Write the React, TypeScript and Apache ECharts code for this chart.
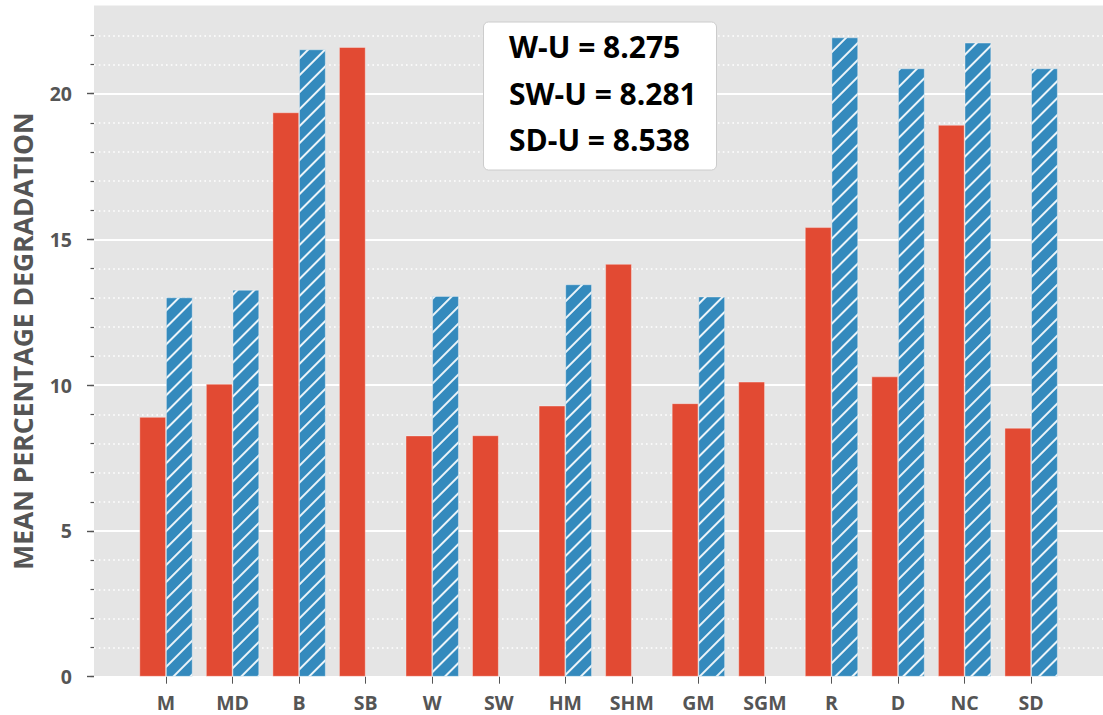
import React, { useEffect, useRef } from "react";
import * as echarts from "echarts";

// Methods on the x axis
const categories = ["M", "MD", "B", "SB", "W", "SW", "HM", "SHM", "GM", "SGM", "R", "D", "NC", "SD"];

// Mean percentage degradation, unweighted (solid) and weighted (hatched)
const unweighted = [8.91, 10.05, 19.36, 21.6, 8.275, 8.281, 9.3, 14.16, 9.38, 10.12, 15.42, 10.3, 18.93, 8.538];
const weighted = [13.01, 13.27, 21.52, null, 13.06, null, 13.46, null, 13.04, null, 21.93, 20.87, 21.75, 20.87];

// Methods whose unweighted value is quoted in the text box
const quoted = ["W", "SW", "SD"];

const majorTicks = { min: 0, max: 20, interval: 5 };
const minorTicks = { min: 0, max: 22, interval: 1 };

const W = 1103;
const H = 715;
const PLOT_LEFT = 94;
const PLOT_TOP = 5.4;
const ZERO_Y = 676.7;
const UNIT = 29.15; // px per unit of the value axis
const STEP = 66.55; // px between category centres
const FIRST_CENTER = 166;

const GREY = "#555555";
const FONT = "Open Sans";

export default function App() {
  const ref = useRef<HTMLDivElement>(null);

  useEffect(() => {
    if (!ref.current) return;
    const chart = echarts.init(ref.current, null, { renderer: "svg" });

    const boxLines = quoted.map((c) => {
      const v = unweighted[categories.indexOf(c)];
      return `${c}-U = ${v.toFixed(3)}`;
    });

    const minorTop = ZERO_Y - minorTicks.max * UNIT;
    const majorTop = ZERO_Y - majorTicks.max * UNIT;

    const option: any = {
      animation: false,
      aria: { enabled: true, decal: { show: true } },
      grid: [
        { left: PLOT_LEFT, width: W - PLOT_LEFT, top: minorTop, height: minorTicks.max * UNIT },
        { left: PLOT_LEFT, width: W - PLOT_LEFT, top: majorTop, height: majorTicks.max * UNIT },
        {
          left: FIRST_CENTER - STEP / 2,
          width: categories.length * STEP,
          top: minorTop,
          height: minorTicks.max * UNIT,
        },
      ],
      xAxis: [
        { gridIndex: 0, type: "value", min: 0, max: 1, show: false },
        { gridIndex: 1, type: "value", min: 0, max: 1, show: false },
        {
          gridIndex: 2,
          type: "category",
          data: categories,
          axisLine: { show: false },
          axisTick: { show: true, alignWithLabel: true, length: 7, lineStyle: { color: GREY, width: 1 } },
          axisLabel: {
            margin: 16,
            color: GREY,
            fontFamily: FONT,
            fontWeight: "bold",
            fontSize: 19.5,
          },
          splitLine: { show: false },
        },
      ],
      yAxis: [
        {
          gridIndex: 0,
          type: "value",
          min: minorTicks.min,
          max: minorTicks.max,
          interval: minorTicks.interval,
          offset: 3,
          axisLine: { show: false },
          axisTick: { show: true, length: 3.5, lineStyle: { color: GREY, width: 1.2 } },
          axisLabel: { show: false },
          splitLine: { show: true, lineStyle: { color: "#ffffff", width: 1.6, type: [1.6, 3.2] } },
        },
        {
          gridIndex: 1,
          type: "value",
          min: majorTicks.min,
          max: majorTicks.max,
          interval: majorTicks.interval,
          offset: 3,
          axisLine: { show: false },
          axisTick: { show: true, length: 7, lineStyle: { color: GREY, width: 1.4 } },
          axisLabel: {
            margin: 19,
            color: GREY,
            fontFamily: FONT,
            fontWeight: "bold",
            fontSize: 19.5,
          },
          splitLine: { show: true, lineStyle: { color: "#ffffff", width: 1.8 } },
        },
        { gridIndex: 2, type: "value", min: minorTicks.min, max: minorTicks.max, show: false },
      ],
      series: [
        {
          name: "Unweighted",
          type: "bar",
          xAxisIndex: 2,
          yAxisIndex: 2,
          data: unweighted,
          barWidth: STEP * 0.4,
          barGap: "0%",
          itemStyle: {
            color: "#E24A33",
            borderColor: "rgba(255,255,255,0.25)",
            borderWidth: 0.8,
            decal: { symbol: "none" },
          },
        },
        {
          name: "Weighted",
          type: "bar",
          xAxisIndex: 2,
          yAxisIndex: 2,
          data: weighted,
          barWidth: STEP * 0.4,
          barGap: "0%",
          itemStyle: {
            color: "#348ABD",
            borderColor: "rgba(255,255,255,0.25)",
            borderWidth: 0.8,
            decal: {
              symbol: "rect",
              symbolSize: 1,
              dashArrayX: [1, 0],
              dashArrayY: [1.3, 9.2],
              rotation: -Math.PI / 4,
              color: "rgba(255,255,255,0.9)",
            },
          },
        },
      ],
      graphic: [
        {
          type: "rect",
          z: -10,
          silent: true,
          shape: { x: PLOT_LEFT, y: PLOT_TOP, width: W - PLOT_LEFT, height: ZERO_Y - PLOT_TOP },
          style: { fill: "#E5E5E5" },
        },
        {
          type: "text",
          x: 22.5,
          y: (PLOT_TOP + ZERO_Y) / 2,
          rotation: Math.PI / 2,
          silent: true,
          style: {
            text: "MEAN PERCENTAGE DEGRADATION",
            fontFamily: FONT,
            fontWeight: "bold",
            fontSize: 26.5,
            fill: GREY,
            align: "center",
            verticalAlign: "middle",
          },
        },
        {
          type: "rect",
          z: 50,
          silent: true,
          shape: { x: 483.5, y: 22, width: 233, height: 148, r: 5 },
          style: { fill: "#ffffff", stroke: "#cccccc", lineWidth: 1 },
        },
        ...boxLines.map((t, i) => ({
          type: "text",
          z: 51,
          silent: true,
          x: 509,
          y: 46.7 + i * 46.3,
          style: {
            text: t,
            fontFamily: FONT,
            fontWeight: "bold",
            fontSize: 30,
            fill: "#000000",
            align: "left",
            verticalAlign: "middle",
          },
        })),
      ],
    };

    chart.setOption(option);
    return () => chart.dispose();
  }, []);

  return (
    <div
      ref={ref}
      style={{ position: "absolute", left: 0, top: 0, width: W, height: H, background: "#ffffff" }}
    />
  );
}
